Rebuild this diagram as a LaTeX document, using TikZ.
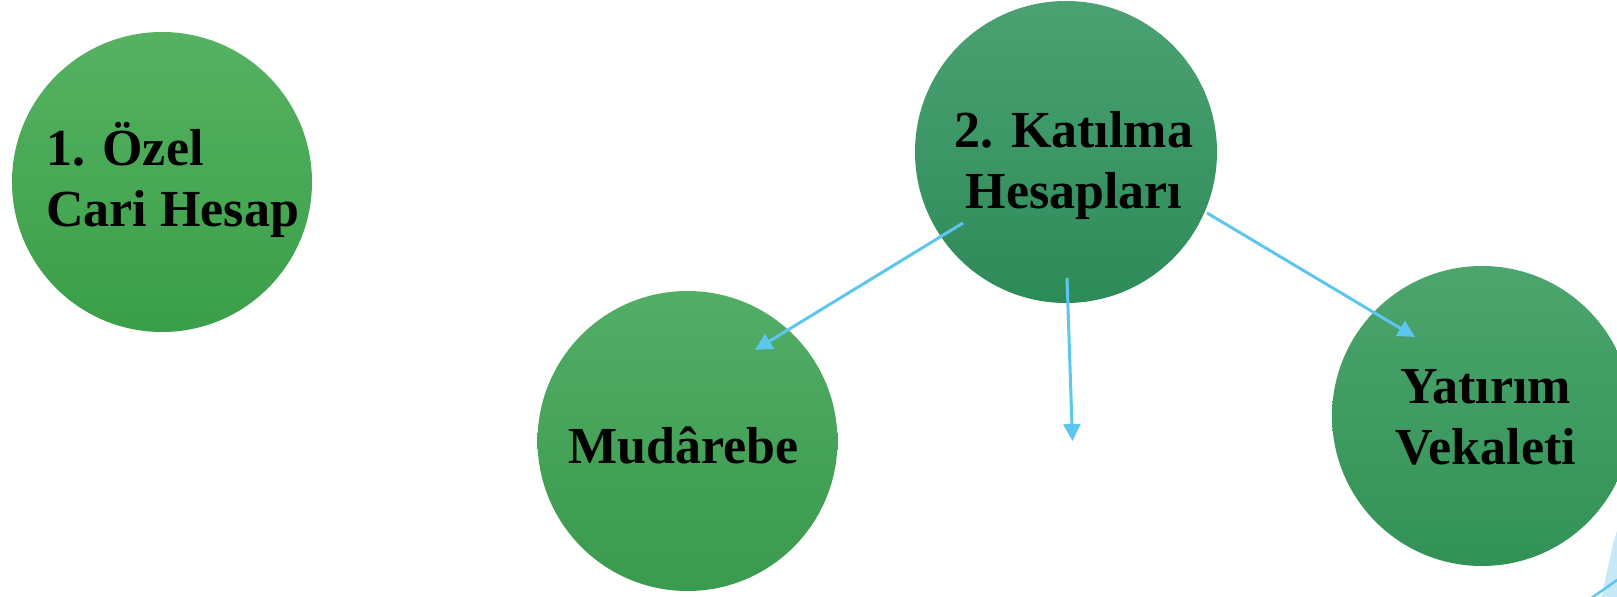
\documentclass[tikz,border=0pt]{standalone}
\usepackage{fontspec}
\setmainfont{Liberation Serif}
\usetikzlibrary{arrows.meta}
\definecolor{arrowblue}{RGB}{92,198,238}
\definecolor{wedgeblue}{RGB}{197,233,247}
\definecolor{ga1}{RGB}{86,178,98}
\definecolor{ga2}{RGB}{58,158,73}
\definecolor{gb1}{RGB}{75,161,114}
\definecolor{gb2}{RGB}{45,139,88}
\definecolor{gc1}{RGB}{82,173,102}
\definecolor{gc2}{RGB}{58,154,77}
\definecolor{gd1}{RGB}{76,165,109}
\definecolor{gd2}{RGB}{50,146,86}
\tikzset{
  bubble/.style={circle, minimum size=#1, inner sep=0pt},
  lbl/.style={font=\bfseries\fontsize{52}{61}\selectfont, inner sep=0pt, text=black},
  conn/.style={draw=arrowblue, line width=3pt, -{Triangle[length=17pt,width=17pt]}},
}
\begin{document}
\begin{tikzpicture}[x=1pt,y=-1pt]
\useasboundingbox (0,0) rectangle (1617,597);
\node[bubble=300pt, top color=ga1, bottom color=ga2] (c1) at (162,182) {};
\node[bubble=302pt, top color=gb1, bottom color=gb2] (c2) at (1066,152) {};
\node[bubble=300pt, top color=gc1, bottom color=gc2] (c3) at (687.5,441) {};
\node[bubble=300pt, top color=gd1, bottom color=gd2] (c4) at (1482,416) {};
\node[lbl, align=left, anchor=base west] (t1) at (46,226) {1. Özel\\Cari Hesap};
\node[lbl, align=center, anchor=base] (t2) at (1074,208) {2. Katılma\\Hesapları};
\node[lbl, align=center, anchor=base] (t3) at (683.5,463) {Mudârebe};
\node[lbl, align=center, anchor=base] (t4) at (1486,464) {Yatırım\\Vekaleti};
\coordinate (a1s) at ([shift={(-103,71)}]c2.center);
\coordinate (a1e) at ([shift={(67.5,-91)}]c3.center);
\coordinate (a2s) at ([shift={(1,126)}]c2.center);
\coordinate (a2e) at (1072.5,441);
\coordinate (a3s) at ([shift={(141,61)}]c2.center);
\coordinate (a3e) at ([shift={(-67,-79)}]c4.center);
\draw[conn] (a1s) -- (a1e);
\draw[conn] (a2s) -- (a2e);
\draw[conn] (a3s) -- (a3e);
\fill[wedgeblue] (1619,525) -- (1614,540) -- (1601,599) -- (1619,599) -- cycle;
\coordinate (w1) at (1590,599);
\coordinate (w2) at (1620,578);
\draw[arrowblue, line width=2.5pt] (w1) -- (w2);
\end{tikzpicture}
\end{document}
